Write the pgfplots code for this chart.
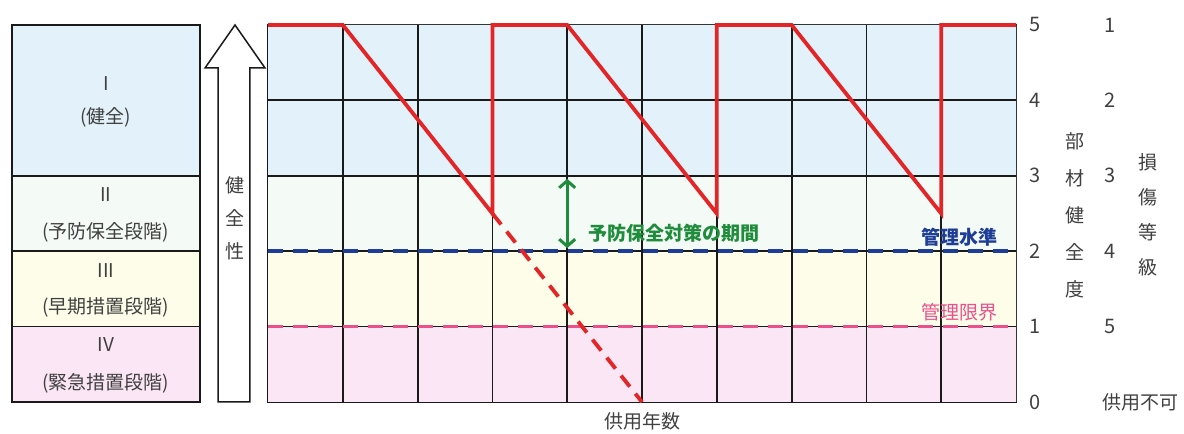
\documentclass[border=0pt]{standalone}
\usepackage{fontspec}
\setmainfont{Noto Sans CJK JP}
\usepackage{pgfplots}
\pgfplotsset{compat=1.18}
\usetikzlibrary{arrows.meta}

\definecolor{bgI}{HTML}{E3F2FA}
\definecolor{bgII}{HTML}{F4FAF6}
\definecolor{bgIII}{HTML}{FDFDE9}
\definecolor{bgIV}{HTML}{FBE6F5}
\definecolor{lred}{HTML}{E42527}
\definecolor{lblue}{HTML}{1D3D96}
\definecolor{lpink}{HTML}{E9518D}
\definecolor{lgreen}{HTML}{1E8C3A}
\definecolor{txt}{HTML}{404040}
\definecolor{gridc}{HTML}{1A1A1A}

\tikzset{lab/.style={font=\fontsize{19}{22}\selectfont, text=txt}}

\begin{document}
\begin{tikzpicture}
\begin{axis}[
    scale only axis,
    width=748pt, height=377pt,
    xmin=0, xmax=10, ymin=0, ymax=5,
    xtick=\empty, ytick=\empty,
    axis line style={gridc, line width=1.8pt},
    clip=false,
]

% background bands
\addplot [fill=bgI, draw=none] coordinates {(0,3) (10,3) (10,5) (0,5) (0,3)};
\addplot [fill=bgII, draw=none] coordinates {(0,2) (10,2) (10,3) (0,3) (0,2)};
\addplot [fill=bgIII, draw=none] coordinates {(0,1) (10,1) (10,2) (0,2) (0,1)};
\addplot [fill=bgIV, draw=none] coordinates {(0,0) (10,0) (10,1) (0,1) (0,0)};

% grid
\pgfplotsinvokeforeach{1,...,9}{\draw [gridc, line width=1.8pt] (axis cs:#1,0) -- (axis cs:#1,5);}
\pgfplotsinvokeforeach{1,...,4}{\draw [gridc, line width=1.8pt] (axis cs:0,#1) -- (axis cs:10,#1);}

% limits
\addplot [lblue, line width=3.6pt, dash pattern=on 15pt off 10pt] coordinates {(0,2) (10,2)};
\addplot [lpink, line width=3.6pt, dash pattern=on 15pt off 10pt] coordinates {(0,1) (10,1)};

% health curve
\addplot [lred, line width=3.8pt] coordinates {(0,5) (1,5) (3,2.5) (3,5) (4,5) (6,2.5) (6,5) (7,5) (9,2.5) (9,5) (10,5)};
\addplot [lred, line width=3.8pt, dash pattern=on 14pt off 9pt] coordinates {(3,2.5) (5,0)};

% preventive period arrow
\draw [lgreen, line width=3pt, {Straight Barb[length=7pt,width=16pt]}-{Straight Barb[length=7pt,width=16pt]}]
    (axis cs:4,2.96) -- (axis cs:4,2.04);
\node [anchor=west, text=lgreen, font=\fontsize{19}{22}\selectfont\bfseries] at (axis cs:4.24,2.24) {予防保全対策の期間};
\node [anchor=east, text=lblue, font=\fontsize{19}{22}\selectfont\bfseries] at (axis cs:9.8,2.19) {管理水準};
\node [anchor=east, text=lpink, font=\fontsize{19}{22}\selectfont] at (axis cs:9.8,1.19) {管理限界};
\node [lab] at (axis cs:5,-0.25) {供用年数};

% right scales
\node [lab, font=\fontsize{20}{22}\selectfont] at (axis cs:10.25,5) {5};
\node [lab, font=\fontsize{20}{22}\selectfont] at (axis cs:10.25,4) {4};
\node [lab, font=\fontsize{20}{22}\selectfont] at (axis cs:10.25,3) {3};
\node [lab, font=\fontsize{20}{22}\selectfont] at (axis cs:10.25,2) {2};
\node [lab, font=\fontsize{20}{22}\selectfont] at (axis cs:10.25,1) {1};
\node [lab, font=\fontsize{20}{22}\selectfont] at (axis cs:10.25,0) {0};
\node [lab, font=\fontsize{20}{22}\selectfont] at (axis cs:11.26,5) {1};
\node [lab, font=\fontsize{20}{22}\selectfont] at (axis cs:11.26,4) {2};
\node [lab, font=\fontsize{20}{22}\selectfont] at (axis cs:11.26,3) {3};
\node [lab, font=\fontsize{20}{22}\selectfont] at (axis cs:11.26,2) {4};
\node [lab, font=\fontsize{20}{22}\selectfont] at (axis cs:11.26,1) {5};
\node [lab] at (axis cs:11.66,0) {供用不可};
\node [lab, align=center, font=\fontsize{19}{37}\selectfont] at (axis cs:10.79,2.48) {部\\材\\健\\全\\度};
\node [lab, align=center, font=\fontsize{19}{35}\selectfont] at (axis cs:11.76,2.48) {損\\傷\\等\\級};

% left panel
\draw [gridc, line width=1.6pt, fill=bgI] (axis cs:-3.422,3) rectangle (axis cs:-0.909,5);
\draw [gridc, line width=1.6pt, fill=bgII] (axis cs:-3.422,2) rectangle (axis cs:-0.909,3);
\draw [gridc, line width=1.6pt, fill=bgIII] (axis cs:-3.422,1) rectangle (axis cs:-0.909,2);
\draw [gridc, line width=1.6pt, fill=bgIV] (axis cs:-3.422,0) rectangle (axis cs:-0.909,1);
\node [lab] at (axis cs:-2.166,4.23) {I};
\node [lab] at (axis cs:-2.166,3.77) {(健全)};
\node [lab] at (axis cs:-2.166,2.745) {II};
\node [lab] at (axis cs:-2.166,2.255) {(予防保全段階)};
\node [lab] at (axis cs:-2.166,1.75) {III};
\node [lab] at (axis cs:-2.166,1.25) {(早期措置段階)};
\node [lab] at (axis cs:-2.166,0.756) {IV};
\node [lab] at (axis cs:-2.166,0.252) {(緊急措置段階)};

% health arrow
\draw [gridc, line width=1.5pt, fill=white, line join=miter]
    (axis cs:-0.668,0) -- (axis cs:-0.668,4.43) -- (axis cs:-0.842,4.43) -- (axis cs:-0.441,5)
    -- (axis cs:-0.040,4.43) -- (axis cs:-0.241,4.43) -- (axis cs:-0.241,0) -- cycle;
\node [lab, align=center, font=\fontsize{19}{33}\selectfont] at (axis cs:-0.441,2.44) {健\\全\\性};

% page frame
\path (axis cs:-3.583,-0.3714) rectangle (axis cs:12.246,5.3316);
\end{axis}
\end{tikzpicture}
\end{document}
